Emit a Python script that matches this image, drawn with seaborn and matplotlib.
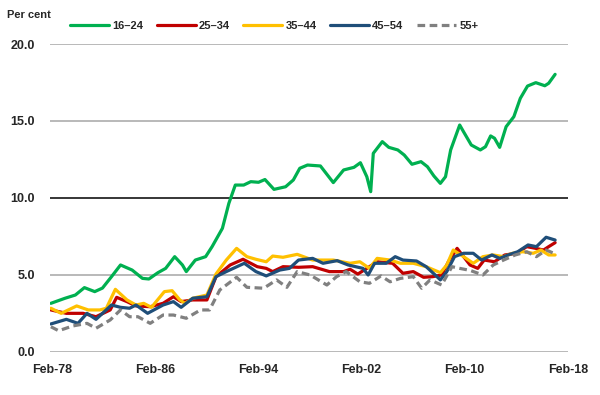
import pandas as pd
import seaborn as sns
import matplotlib.pyplot as plt
from matplotlib.lines import Line2D

# ---- data (per cent); x in decimal years ----
yrs_1624 = [1978.0, 1979.1, 1979.9, 1980.6, 1981.4, 1982.0, 1982.7, 1983.4, 1984.3, 1985.1,
            1985.6, 1986.3, 1986.9, 1987.6, 1988.2, 1988.5, 1989.2, 1990.0, 1990.5, 1991.3,
            1991.8, 1992.3, 1992.95, 1993.5, 1994.1, 1994.6, 1995.3, 1996.2, 1996.8, 1997.3,
            1997.9, 1998.9, 1999.9, 2000.7, 2001.5, 2002.0, 2002.5, 2002.8, 2003.0, 2003.7,
            2004.2, 2004.9, 2005.4, 2006.0, 2006.7, 2007.2, 2007.7, 2008.2, 2008.6, 2009.0,
            2009.7, 2010.0, 2010.6, 2011.3, 2011.7, 2012.1, 2012.4, 2012.8, 2013.3, 2013.9,
            2014.4, 2014.96, 2015.6, 2016.3, 2016.6, 2017.1]
age_1624 = [3.16, 3.49, 3.70, 4.18, 3.92, 4.15, 4.89, 5.65, 5.32, 4.78,
            4.74, 5.15, 5.43, 6.19, 5.65, 5.22, 5.97, 6.19, 6.84, 8.03,
            9.65, 10.84, 10.84, 11.06, 11.02, 11.20, 10.56, 10.73, 11.17, 11.93,
            12.14, 12.08, 11.00, 11.82, 11.99, 12.29, 11.38, 10.41, 12.90, 13.66,
            13.29, 13.12, 12.79, 12.19, 12.36, 12.03, 11.43, 10.95, 11.38, 13.12,
            14.74, 14.30, 13.44, 13.12, 13.33, 14.03, 13.88, 13.29, 14.63, 15.28,
            16.47, 17.27, 17.49, 17.29, 17.45, 18.03]

yrs_2534 = [1978.0, 1979.2, 1980.5, 1981.5, 1982.6, 1983.1, 1983.9, 1984.6, 1985.7, 1986.7,
            1987.5, 1988.1, 1989.0, 1990.1, 1990.8, 1991.9, 1992.9, 1994.0, 1994.7, 1995.2,
            1996.0, 1997.2, 1998.3, 1999.6, 2000.7, 2001.2, 2001.8, 2002.5, 2003.3, 2004.5,
            2005.3, 2006.1, 2006.9, 2007.6, 2008.3, 2008.85, 2009.5, 2010.0, 2010.5, 2011.1,
            2011.6, 2012.4, 2013.2, 2014.1, 2014.9, 2015.6, 2016.2, 2016.6, 2017.1]
age_2534 = [2.73, 2.51, 2.51, 2.29, 2.73, 3.55, 3.27, 2.99, 2.94, 3.16,
            3.59, 3.27, 3.38, 3.38, 4.89, 5.65, 6.02, 5.54, 5.43, 5.22,
            5.54, 5.50, 5.54, 5.22, 5.22, 5.37, 5.06, 5.43, 5.86, 5.76,
            5.11, 5.22, 4.85, 4.89, 5.00, 5.90, 6.73, 6.19, 5.65, 5.43,
            5.97, 5.86, 6.30, 6.41, 6.84, 6.73, 6.62, 6.84, 7.10]

yrs_3544 = [1978.0, 1978.8, 1980.0, 1980.9, 1981.8, 1982.3, 1983.0, 1983.9, 1984.6, 1985.2,
            1985.8, 1986.8, 1987.4, 1988.0, 1988.4, 1989.0, 1990.1, 1990.8, 1991.6, 1992.4,
            1993.2, 1993.9, 1994.7, 1995.2, 1996.0, 1997.1, 1998.3, 1999.9, 2001.2, 2001.96,
            2002.7, 2003.3, 2004.3, 2005.1, 2006.1, 2007.1, 2008.2, 2008.7, 2009.2, 2010.0,
            2010.75, 2011.5, 2012.3, 2013.1, 2013.8, 2014.6, 2015.4, 2016.0, 2016.6, 2017.1]
age_3544 = [2.84, 2.51, 2.99, 2.73, 2.73, 2.84, 4.07, 3.38, 3.05, 3.16,
            2.90, 3.92, 3.98, 3.38, 3.16, 3.49, 3.70, 5.06, 5.97, 6.73,
            6.19, 6.02, 5.86, 6.23, 6.15, 6.34, 5.97, 5.97, 5.76, 5.86,
            5.43, 6.08, 5.97, 5.76, 5.76, 5.54, 5.15, 5.65, 6.62, 6.19,
            5.76, 6.19, 6.30, 6.19, 6.41, 6.51, 6.41, 6.62, 6.30, 6.30]

yrs_4554 = [1978.0, 1979.2, 1980.1, 1980.8, 1981.5, 1982.7, 1983.4, 1984.1, 1984.6, 1985.5,
            1986.7, 1987.5, 1988.1, 1989.0, 1990.1, 1990.8, 1991.6, 1993.0, 1993.9, 1994.7,
            1995.75, 1996.5, 1997.2, 1998.3, 1999.1, 2000.2, 2001.05, 2002.2, 2002.6, 2003.1,
            2004.0, 2004.7, 2005.3, 2006.35, 2007.1, 2007.8, 2008.2, 2008.7, 2009.3, 2010.0,
            2010.75, 2011.4, 2012.2, 2012.8, 2013.45, 2014.2, 2015.0, 2015.65, 2016.4, 2017.1]
age_4554 = [1.82, 2.12, 1.86, 2.51, 2.12, 3.05, 2.90, 2.84, 3.05, 2.51,
            3.05, 3.27, 2.90, 3.49, 3.59, 4.89, 5.22, 5.76, 5.22, 4.94,
            5.32, 5.43, 5.97, 6.08, 5.76, 5.93, 5.65, 5.43, 5.00, 5.76,
            5.76, 6.19, 5.97, 5.91, 5.54, 5.00, 4.68, 5.22, 6.19, 6.41,
            6.41, 5.97, 6.30, 6.08, 6.30, 6.51, 6.95, 6.84, 7.45, 7.27]

yrs_55 = [1978.0, 1978.6, 1979.7, 1980.8, 1981.5, 1982.6, 1983.4, 1984.1, 1984.75, 1985.7,
          1986.7, 1987.5, 1988.5, 1989.6, 1990.3, 1991.1, 1992.4, 1993.2, 1994.5, 1995.5,
          1996.3, 1997.1, 1998.1, 1999.4, 2000.15, 2000.9, 2001.96, 2002.7, 2003.6, 2004.3,
          2005.1, 2006.1, 2006.75, 2007.4, 2008.3, 2009.1, 2009.7, 2010.5, 2011.5, 2012.3,
          2013.1, 2014.0, 2014.9, 2015.65, 2016.4, 2017.0]
age_55 = [1.64, 1.38, 1.69, 1.86, 1.54, 2.08, 2.73, 2.29, 2.29, 1.86,
          2.40, 2.40, 2.19, 2.73, 2.73, 4.03, 4.85, 4.20, 4.14, 4.68,
          4.20, 5.22, 5.00, 4.35, 4.89, 5.22, 4.56, 4.46, 4.94, 4.56,
          4.78, 4.89, 4.14, 4.68, 4.35, 5.54, 5.43, 5.30, 5.00, 5.65,
          5.97, 6.30, 6.51, 6.19, 6.62, 6.41]

groups = ['16–24', '25–34', '35–44', '45–54', '55+']
colors = ['#00B050', '#C00000', '#FFC000', '#1F4E79', '#808080']
tick_years = [1978.08, 1986.08, 1994.08, 2002.08, 2010.08, 2018.08]
tick_labels = ['Feb-78', 'Feb-86', 'Feb-94', 'Feb-02', 'Feb-10', 'Feb-18']
y_ticks = [0, 5, 10, 15, 20]

series = [(yrs_1624, age_1624), (yrs_2534, age_2534), (yrs_3544, age_3544),
          (yrs_4554, age_4554), (yrs_55, age_55)]
df = pd.concat([pd.DataFrame({'year': x, 'rate': y, 'group': g})
                for g, (x, y) in zip(groups, series)], ignore_index=True)

sns.set_theme(style='white')
plt.rcParams['font.family'] = ['Liberation Sans', 'DejaVu Sans']
plt.rcParams['lines.solid_joinstyle'] = 'round'
plt.rcParams['lines.solid_capstyle'] = 'round'
plt.rcParams['lines.dash_joinstyle'] = 'round'

fig = plt.figure(figsize=(6, 3.95), dpi=100)
ax = fig.add_axes([0.0833, 0.1089, 0.8634, 0.7797])

lw = 2.3
dash = (2.4, 1.4)
dashes = {g: '' for g in groups}
dashes['55+'] = dash
sns.lineplot(data=df, x='year', y='rate', hue='group', style='group',
             hue_order=groups, style_order=groups, palette=colors,
             dashes=dashes, estimator=None, sort=False, linewidth=lw,
             legend=False, ax=ax)

ax.set_xlim(1977.93, 2018.1)
ax.set_ylim(0, 20)
ax.set_xticks(tick_years)
ax.set_xticklabels(tick_labels)
ax.set_yticks(y_ticks)
ax.set_yticklabels([f'{v:.1f}' for v in y_ticks])
ax.set_xlabel('')
ax.set_ylabel('')
ax.tick_params(axis='both', length=0, labelsize=9)
ax.tick_params(axis='x', pad=9)
ax.tick_params(axis='y', pad=11)
for lab in ax.get_xticklabels() + ax.get_yticklabels():
    lab.set_fontweight('bold')

ax.yaxis.grid(True, color='#A6A6A6', linewidth=1.1)
ax.xaxis.grid(False)
ax.get_ygridlines()[2].set_color('black')
ax.set_axisbelow(True)
for s in ax.spines.values():
    s.set_visible(False)

handles = [Line2D([], [], color=c, linewidth=lw,
                  linestyle=(0, dash) if g == '55+' else '-')
           for g, c in zip(groups, colors)]
fig.legend(handles, groups, loc='center', bbox_to_anchor=(0.457, 0.935),
           ncol=5, frameon=False, prop={'size': 8, 'weight': 'bold'},
           handlelength=3.5, handletextpad=0.3, columnspacing=1.2)

fig.text(0.012, 0.962, 'Per cent', fontsize=8, fontweight='bold', va='center')

fig.savefig('out.png', dpi=100)
